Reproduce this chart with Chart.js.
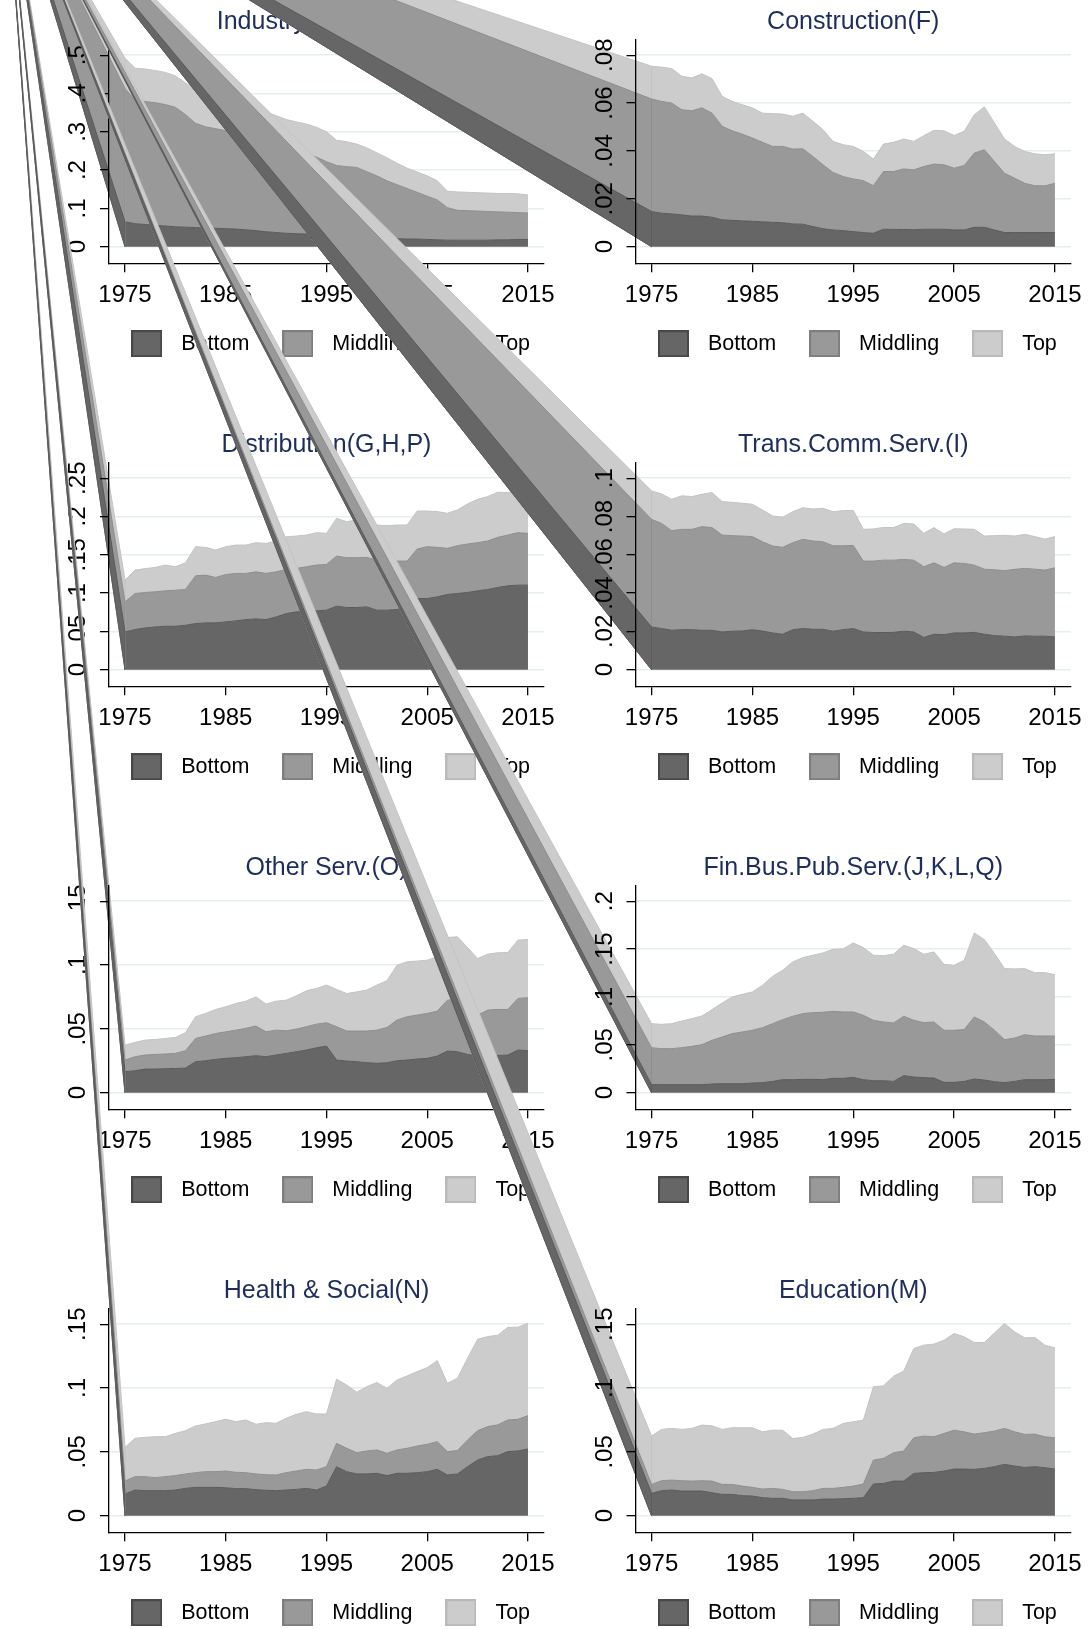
<!DOCTYPE html>
<html>
<head>
<meta charset="utf-8">
<script src="https://cdn.jsdelivr.net/npm/chart.js@4.4.1/dist/chart.umd.min.js"></script>
<style>
  html, body { margin: 0; padding: 0; background: #fff; overflow: hidden; }
  #page { position: relative; width: 1089px; height: 1629px; overflow: hidden; }
  #page canvas { position: absolute; left: 0; top: 0; }
</style>
</head>
<body>
<div id="page"></div>
<script>
// years on the x axis
const years = [1975, 1976, 1977, 1978, 1979, 1980, 1981, 1982, 1983, 1984,
  1985, 1986, 1987, 1988, 1989, 1990, 1991, 1992, 1993, 1994,
  1995, 1996, 1997, 1998, 1999, 2000, 2001, 2002, 2003, 2004,
  2005, 2006, 2007, 2008, 2009, 2010, 2011, 2012, 2013, 2014, 2015];
const xTicks = [1975, 1985, 1995, 2005, 2015];
const groups = ['Bottom', 'Middling', 'Top'];

// each panel: upper edge of the Bottom, Middling and Top bands (stacked shares)
const industryBottom = [.065, .060, .058, .056, .054, .052, .051, .050, .049, .048, .047, .046, .044, .042, .039, .037, .035, .034, .033, .032, .030, .028, .026, .024, .023, .022, .022, .021, .020, .020, .019, .018, .017, .017, .017, .017, .017, .018, .018, .019, .019];
const industryMiddling = [.413, .383, .379, .376, .371, .364, .345, .322, .313, .308, .303, .297, .290, .282, .276, .268, .260, .252, .242, .234, .222, .212, .209, .207, .196, .185, .172, .162, .152, .142, .132, .122, .102, .095, .094, .093, .092, .091, .090, .089, .088];
const industryTop = [.492, .466, .464, .460, .455, .446, .428, .408, .398, .388, .378, .370, .362, .356, .352, .342, .332, .326, .320, .312, .300, .278, .274, .268, .258, .245, .232, .218, .205, .195, .185, .172, .145, .143, .142, .141, .140, .139, .139, .138, .135];
const industryTicks = [0, .1, .2, .3, .4, .5];

const constructionBottom = [.0147, .0140, .0137, .0133, .0128, .0128, .0123, .0112, .0110, .0108, .0106, .0104, .0102, .0100, .0095, .0094, .0084, .0075, .0070, .0067, .0063, .0059, .0056, .0073, .0072, .0072, .0071, .0073, .0073, .0073, .0070, .0070, .0081, .0081, .0070, .0059, .0059, .0059, .0059, .0059, .0059];
const constructionMiddling = [.0617, .0607, .0600, .0572, .0568, .0580, .0558, .0503, .0484, .0470, .0454, .0436, .0419, .0419, .0408, .0409, .0377, .0342, .0310, .0293, .0283, .0276, .0255, .0314, .0314, .0325, .0321, .0335, .0345, .0342, .0328, .0339, .0391, .0405, .0356, .0307, .0286, .0265, .0255, .0254, .0265];
const constructionTop = [.0754, .0750, .0744, .0712, .0705, .0722, .0702, .0628, .0607, .0593, .0580, .0558, .0556, .0554, .0545, .0558, .0524, .0489, .0440, .0426, .0419, .0398, .0366, .0429, .0436, .0450, .0440, .0464, .0486, .0484, .0465, .0482, .0551, .0584, .0517, .0450, .0419, .0398, .0388, .0384, .0388];
const constructionTicks = [0, .02, .04, .06, .08];

const distributionBottom = [.0493, .0524, .0545, .0558, .0567, .0567, .0580, .0602, .0611, .0611, .0624, .0637, .0654, .0663, .0654, .0689, .0733, .0755, .0755, .0768, .0777, .0829, .0812, .0812, .0820, .0777, .0777, .0785, .0820, .0929, .0929, .0951, .0982, .0995, .1008, .1030, .1047, .1073, .1095, .1104, .1104];
const distributionMiddling = [.0886, .0995, .1008, .1017, .1030, .1038, .1047, .1226, .1235, .1204, .1243, .1257, .1257, .1278, .1257, .1278, .1309, .1322, .1344, .1366, .1374, .1483, .1462, .1462, .1466, .1431, .1409, .1418, .1418, .1575, .1606, .1597, .1584, .1619, .1641, .1658, .1680, .1728, .1758, .1789, .1780];
const distributionTop = [.1170, .1300, .1320, .1335, .1366, .1344, .1396, .1606, .1597, .1562, .1606, .1627, .1627, .1658, .1649, .1680, .1736, .1745, .1758, .1789, .1780, .1976, .1933, .1955, .1942, .1889, .1880, .1889, .1889, .2072, .2072, .2064, .2042, .2086, .2164, .2225, .2260, .2317, .2312, .2312, .2282];
const distributionTicks = [0, .05, .1, .15, .2, .25];

const transBottom = [.0223, .0215, .0206, .0209, .0209, .0206, .0206, .0197, .0201, .0202, .0209, .0202, .0192, .0185, .0209, .0215, .0211, .0211, .0201, .0209, .0215, .0197, .0194, .0194, .0195, .0201, .0197, .0168, .0185, .0183, .0192, .0192, .0195, .0185, .0178, .0175, .0171, .0176, .0175, .0175, .0171];
const transMiddling = [.0785, .0764, .0726, .0733, .0733, .0747, .0742, .0703, .0700, .0698, .0695, .0668, .0646, .0639, .0663, .0681, .0672, .0668, .0647, .0647, .0649, .0567, .0567, .0572, .0572, .0576, .0572, .0538, .0558, .0534, .0558, .0555, .0546, .0525, .0522, .0517, .0524, .0529, .0525, .0520, .0532];
const transTop = [.0934, .0918, .0890, .0908, .0904, .0916, .0925, .0878, .0874, .0869, .0864, .0834, .0803, .0796, .0825, .0846, .0839, .0843, .0825, .0831, .0832, .0733, .0735, .0743, .0742, .0764, .0761, .0712, .0742, .0709, .0736, .0735, .0733, .0698, .0700, .0702, .0698, .0707, .0695, .0682, .0695];
const transTicks = [0, .02, .04, .06, .08, .1];

const otherBottom = [.0164, .0172, .0185, .0185, .0188, .0190, .0193, .0243, .0250, .0261, .0269, .0274, .0282, .0290, .0282, .0295, .0308, .0321, .0334, .0352, .0365, .0256, .0248, .0243, .0235, .0230, .0235, .0250, .0256, .0264, .0269, .0287, .0326, .0321, .0300, .0287, .0290, .0292, .0295, .0334, .0329];
const otherMiddling = [.0256, .0282, .0295, .0300, .0303, .0308, .0329, .0425, .0444, .0464, .0477, .0490, .0504, .0522, .0477, .0490, .0485, .0498, .0517, .0537, .0548, .0517, .0483, .0483, .0483, .0490, .0511, .0569, .0595, .0608, .0621, .0639, .0725, .0731, .0673, .0608, .0647, .0652, .0652, .0738, .0744];
const otherTop = [.0373, .0394, .0412, .0417, .0425, .0433, .0470, .0595, .0621, .0652, .0673, .0699, .0717, .0751, .0694, .0717, .0725, .0759, .0798, .0817, .0843, .0809, .0777, .0790, .0804, .0843, .0877, .0999, .1025, .1031, .1038, .1064, .1216, .1221, .1137, .1051, .1085, .1096, .1098, .1195, .1200];
const otherTicks = [0, .05, .1, .15];

const finBottom = [.0084, .0084, .0084, .0084, .0084, .0084, .0091, .0094, .0094, .0094, .0101, .0105, .0118, .0136, .0136, .0139, .0139, .0136, .0150, .0150, .0160, .0136, .0125, .0125, .0118, .0178, .0164, .0157, .0153, .0108, .0108, .0118, .0143, .0132, .0115, .0105, .0118, .0136, .0136, .0136, .0139];
const finMiddling = [.0470, .0460, .0460, .0470, .0484, .0502, .0547, .0582, .0617, .0634, .0652, .0679, .0721, .0763, .0798, .0826, .0836, .0840, .0850, .0843, .0843, .0808, .0756, .0739, .0728, .0798, .0756, .0732, .0739, .0652, .0652, .0659, .0791, .0739, .0652, .0554, .0571, .0606, .0592, .0592, .0592];
const finTop = [.0721, .0714, .0721, .0749, .0774, .0801, .0868, .0937, .1000, .1028, .1052, .1122, .1216, .1279, .1366, .1411, .1436, .1460, .1498, .1502, .1564, .1516, .1436, .1432, .1446, .1540, .1505, .1446, .1470, .1341, .1331, .1383, .1669, .1599, .1453, .1296, .1293, .1296, .1254, .1254, .1233];
const finTicks = [0, .05, .1, .15, .2];

const healthBottom = [.0170, .0201, .0196, .0196, .0196, .0201, .0214, .0222, .0222, .0222, .0219, .0212, .0212, .0204, .0199, .0196, .0201, .0206, .0214, .0201, .0233, .0384, .0345, .0327, .0327, .0332, .0314, .0332, .0332, .0337, .0345, .0363, .0319, .0327, .0384, .0436, .0463, .0470, .0502, .0507, .0523];
const healthMiddling = [.0272, .0306, .0306, .0298, .0306, .0314, .0327, .0337, .0345, .0345, .0350, .0340, .0337, .0327, .0321, .0319, .0337, .0350, .0363, .0358, .0384, .0567, .0528, .0494, .0507, .0515, .0489, .0515, .0528, .0546, .0559, .0580, .0502, .0510, .0593, .0666, .0698, .0711, .0750, .0755, .0784];
const healthTop = [.0536, .0606, .0614, .0619, .0619, .0645, .0666, .0703, .0719, .0737, .0755, .0737, .0750, .0716, .0729, .0724, .0763, .0794, .0815, .0797, .0797, .1069, .1024, .0967, .1011, .1043, .0998, .1063, .1095, .1129, .1160, .1215, .1037, .1077, .1233, .1382, .1403, .1414, .1476, .1476, .1508];
const healthTicks = [0, .05, .1, .15];

const educationBottom = [.0175, .0196, .0201, .0193, .0193, .0193, .0180, .0167, .0167, .0157, .0154, .0141, .0136, .0136, .0123, .0123, .0123, .0130, .0130, .0133, .0136, .0141, .0248, .0253, .0271, .0271, .0331, .0337, .0339, .0350, .0365, .0365, .0363, .0370, .0384, .0402, .0389, .0378, .0384, .0376, .0365];
const educationMiddling = [.0245, .0274, .0279, .0274, .0271, .0274, .0271, .0245, .0245, .0232, .0222, .0209, .0214, .0206, .0188, .0188, .0196, .0214, .0214, .0222, .0232, .0248, .0436, .0449, .0493, .0506, .0610, .0624, .0618, .0644, .0670, .0657, .0639, .0650, .0663, .0684, .0657, .0637, .0639, .0618, .0610];
const educationTop = [.0624, .0676, .0684, .0676, .0684, .0710, .0704, .0676, .0689, .0689, .0689, .0657, .0670, .0670, .0605, .0613, .0639, .0676, .0684, .0723, .0736, .0749, .1010, .1017, .1093, .1132, .1310, .1336, .1344, .1375, .1427, .1401, .1357, .1357, .1432, .1505, .1440, .1393, .1396, .1336, .1315];
const educationTicks = [0, .05, .1, .15];

const panels = [
  { title: 'Industry(A,B,C,D,E)', bands: [industryBottom, industryMiddling, industryTop], ticks: industryTicks },
  { title: 'Construction(F)', bands: [constructionBottom, constructionMiddling, constructionTop], ticks: constructionTicks },
  { title: 'Distribution(G,H,P)', bands: [distributionBottom, distributionMiddling, distributionTop], ticks: distributionTicks },
  { title: 'Trans.Comm.Serv.(I)', bands: [transBottom, transMiddling, transTop], ticks: transTicks },
  { title: 'Other Serv.(O)', bands: [otherBottom, otherMiddling, otherTop], ticks: otherTicks },
  { title: 'Fin.Bus.Pub.Serv.(J,K,L,Q)', bands: [finBottom, finMiddling, finTop], ticks: finTicks },
  { title: 'Health & Social(N)', bands: [healthBottom, healthMiddling, healthTop], ticks: healthTicks },
  { title: 'Education(M)', bands: [educationBottom, educationMiddling, educationTop], ticks: educationTicks }
];

// look
const fills = ['#666666', '#999999', '#cccccc'];
const edges = ['#5a5a5a', '#8e8e8e', '#c3c3c3'];
const boxEdges = ['#484848', '#7e7e7e', '#b9b9b9'];
const fontFamily = '"Liberation Sans", Arial, Helvetica, sans-serif';
const CW = 1200, H = 1700;          // canvases are larger than the page, page clips them
const colLeft = [109, 635.5];
const colRight = [544, 1071];
const rowZero = [246.7, 669.7, 1092.7, 1515.7];
const sideW = 60;                   // room for the y labels (mirrored on the right)
const vanish = { x: 5, y: -150 };   // where every area polygon starts in the original
const tickLen = 9;

function swatch(fill, edge) {
  const c = document.createElement('canvas');
  c.width = 31; c.height = 27;
  const g = c.getContext('2d');
  g.fillStyle = fill;
  g.fillRect(0, 0, 31, 27);
  g.strokeStyle = edge;
  g.lineWidth = 2;
  g.strokeRect(1, 1, 29, 25);
  return c;
}
const swatches = fills.map((f, i) => swatch(f, boxEdges[i]));

const stataLabel = (v) => v === 0 ? '0' : String(v).replace(/^0\./, '.');

const measure = document.createElement('canvas').getContext('2d');
function yLabelPad(ticks) {
  measure.font = '24px ' + fontFamily;
  let widest = 0;
  ticks.forEach(t => { widest = Math.max(widest, measure.measureText(stataLabel(t)).width); });
  return 30.5 - tickLen - widest / 2;
}

// the original draws each area as a polygon that starts far up-left of the page
const wedges = {
  id: 'wedges',
  afterDatasetsDraw(chart) {
    const ctx = chart.ctx;
    const y0 = chart.scales.y.getPixelForValue(0);
    ctx.save();
    for (let i = chart.data.datasets.length - 1; i >= 0; i--) {
      const ds = chart.data.datasets[i];
      const pt = chart.getDatasetMeta(i).data[0];
      ctx.beginPath();
      ctx.moveTo(vanish.x, vanish.y);
      ctx.lineTo(pt.x, pt.y);
      ctx.lineTo(pt.x, y0);
      ctx.closePath();
      ctx.fillStyle = ds.backgroundColor;
      ctx.fill();
      ctx.lineWidth = 1;
      ctx.strokeStyle = ds.borderColor;
      ctx.stroke();
    }
    ctx.restore();
  }
};

const page = document.getElementById('page');

panels.forEach((p, i) => {
  const col = i % 2, row = Math.floor(i / 2);
  const zero = rowZero[row];
  const top = p.ticks[p.ticks.length - 1];
  const perUnit = 191.5 / top;
  const yMin = -16.5 / perUnit;
  const yMax = top + 16 / perUnit;

  const cv = document.createElement('canvas');
  cv.width = CW; cv.height = H;
  cv.style.width = CW + 'px'; cv.style.height = H + 'px';
  cv.style.zIndex = i + 1;
  page.appendChild(cv);

  const tickFont = { family: fontFamily, size: 24 };

  new Chart(cv, {
    type: 'line',
    data: {
      labels: years,
      datasets: groups.map((g, k) => ({
        label: g,
        data: p.bands[k],
        fill: k === 0 ? 'origin' : '-1',
        backgroundColor: fills[k],
        borderColor: edges[k],
        borderWidth: 1,
        pointRadius: 0,
        pointStyle: swatches[k],
        tension: 0
      }))
    },
    options: {
      responsive: false,
      devicePixelRatio: 1,
      animation: false,
      events: [],
      layout: {
        autoPadding: false,
        padding: {
          left: colLeft[col] - sideW,
          right: CW - colRight[col] - sideW,
          top: zero - 207.5 - 35.2,
          bottom: H - (zero + 16.5 + 45 + 56.25)
        }
      },
      scales: {
        x: {
          type: 'linear',
          min: 1973.41,
          max: 2016.59,
          afterBuildTicks: s => { s.ticks = xTicks.map(v => ({ value: v })); },
          afterFit: s => { s.height = 45; },
          grid: { drawOnChartArea: false, tickLength: tickLen, color: '#000', lineWidth: 1.3, z: 1 },
          border: { display: true, color: '#000', width: 1.3, z: 1 },
          ticks: { color: '#000', font: tickFont, padding: 8.5, maxRotation: 0, autoSkip: false, z: 1, callback: v => String(v) }
        },
        y: {
          type: 'linear',
          position: 'right',
          min: yMin,
          max: yMax,
          afterBuildTicks: s => { s.ticks = p.ticks.map(v => ({ value: v })); },
          afterFit: s => { s.width = sideW; },
          grid: { color: '#e4eef1', lineWidth: 1.6, drawTicks: false },
          border: { display: false },
          ticks: { display: false }
        },
        yt: {
          type: 'linear',
          position: 'left',
          min: yMin,
          max: yMax,
          afterBuildTicks: s => { s.ticks = p.ticks.map(v => ({ value: v })); },
          afterFit: s => { s.width = sideW; },
          grid: { drawOnChartArea: false, tickLength: tickLen, color: '#000', lineWidth: 1.3, z: 1 },
          border: { display: true, color: '#000', width: 1.3, z: 1 },
          ticks: {
            color: '#000', font: tickFont, minRotation: 90, maxRotation: 90,
            crossAlign: 'center', padding: yLabelPad(p.ticks), autoSkip: false, z: 1,
            callback: v => stataLabel(v)
          }
        }
      },
      plugins: {
        title: {
          display: true,
          text: p.title,
          color: '#1e2d5c',
          font: { family: fontFamily, size: 25, weight: 'normal' },
          padding: { top: 3.5, bottom: 1.7 }
        },
        legend: {
          position: 'bottom',
          labels: {
            usePointStyle: true,
            pointStyleWidth: 47.5,
            padding: 24.75,
            color: '#000',
            font: { family: fontFamily, size: 21.5 }
          }
        },
        tooltip: { enabled: false }
      }
    },
    plugins: [wedges]
  });
});
</script>
</body>
</html>
